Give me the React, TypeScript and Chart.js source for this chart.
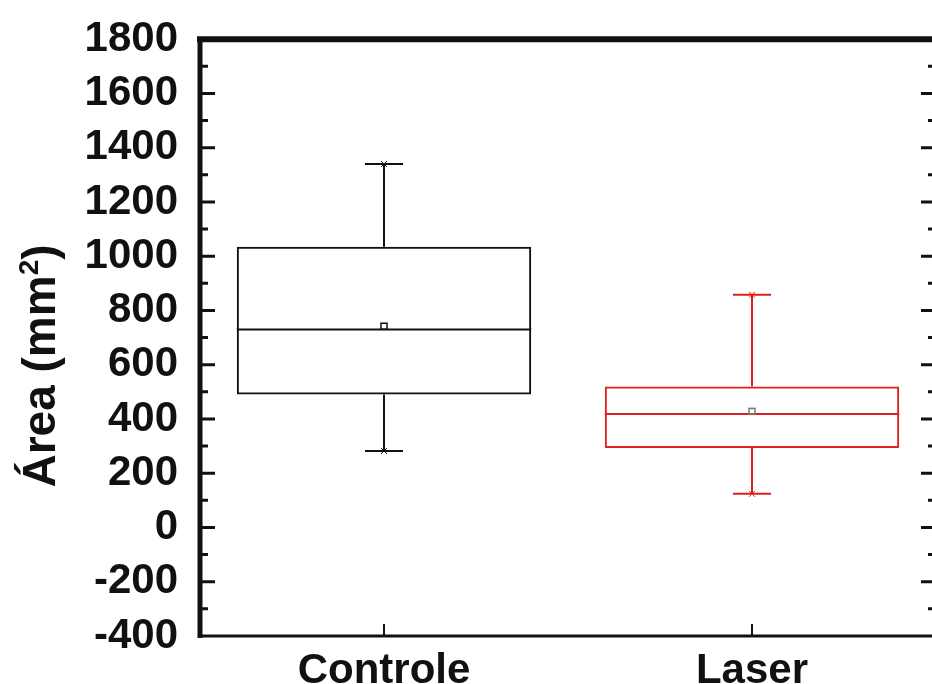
import React, { useEffect, useRef } from "react";
import { Chart, registerables } from "chart.js";

Chart.register(...registerables);

const categories = ["Controle", "Laser"];
const q1 = [490, 293];
const q3 = [1035, 520];
const medians = [730, 418];
const means = [742, 428];
const whiskerLow = [282, 124];
const whiskerHigh = [1340, 858];
const boxColors = ["#111111", "#e0201f"];
const yMin = -400;
const yMax = 1800;
const yStep = 200;
const yMinorStep = 100;
const yTitle = "Área (mm";
const yTitleSup = "2";
const yTitleEnd = ")";

const FONT = '"Liberation Sans", Arial, sans-serif';

const boxPlugin = {
  id: "boxExtras",
  afterDatasetsDraw(chart: any) {
    const ctx = chart.ctx;
    const y = chart.scales.y;
    const meta = chart.getDatasetMeta(0);
    ctx.save();
    meta.data.forEach((bar: any, i: number) => {
      const x = bar.x;
      const w = bar.width;
      const col = boxColors[i];
      ctx.strokeStyle = col;
      ctx.lineWidth = 2;
      const ym = y.getPixelForValue(medians[i]);
      ctx.beginPath();
      ctx.moveTo(x - w / 2, ym);
      ctx.lineTo(x + w / 2, ym);
      ctx.stroke();
      const yq1 = y.getPixelForValue(q1[i]);
      const yq3 = y.getPixelForValue(q3[i]);
      const yl = y.getPixelForValue(whiskerLow[i]);
      const yh = y.getPixelForValue(whiskerHigh[i]);
      ctx.beginPath();
      ctx.moveTo(x, yq3);
      ctx.lineTo(x, yh);
      ctx.moveTo(x, yq1);
      ctx.lineTo(x, yl);
      const cap = 19;
      ctx.moveTo(x - cap, yh);
      ctx.lineTo(x + cap, yh);
      ctx.moveTo(x - cap, yl);
      ctx.lineTo(x + cap, yl);
      ctx.stroke();
      ctx.lineWidth = 1;
      ctx.beginPath();
      [yh, yl].forEach((yy) => {
        ctx.moveTo(x - 3, yy - 3);
        ctx.lineTo(x + 3, yy + 3);
        ctx.moveTo(x - 3, yy + 3);
        ctx.lineTo(x + 3, yy - 3);
      });
      ctx.stroke();
      const ymean = y.getPixelForValue(means[i]);
      ctx.lineWidth = 1.5;
      ctx.strokeStyle = i === 1 ? "#777" : col;
      ctx.strokeRect(x - 3, ymean - 3, 6, 6);
    });
    ctx.restore();
  },
  afterDraw(chart: any) {
    const ctx = chart.ctx;
    const a = chart.chartArea;
    const y = chart.scales.y;
    const xs = chart.scales.x;
    ctx.save();
    ctx.strokeStyle = "#111";
    ctx.lineCap = "butt";
    ctx.lineWidth = 6;
    ctx.beginPath();
    ctx.moveTo(a.left - 3, a.top);
    ctx.lineTo(a.right + 3, a.top);
    ctx.stroke();
    ctx.lineWidth = 5;
    ctx.beginPath();
    ctx.moveTo(a.left, a.top);
    ctx.lineTo(a.left, a.bottom + 2);
    ctx.moveTo(a.right, a.top);
    ctx.lineTo(a.right, a.bottom + 2);
    ctx.stroke();
    ctx.lineWidth = 3;
    ctx.beginPath();
    ctx.moveTo(a.left, a.bottom);
    ctx.lineTo(a.right, a.bottom);
    ctx.stroke();
    ctx.lineWidth = 3;
    ctx.beginPath();
    for (let v = yMin + yMinorStep; v < yMax; v += yMinorStep) {
      const py = y.getPixelForValue(v);
      const major = v % yStep === 0;
      const len = major ? 15 : 8;
      ctx.moveTo(a.left, py);
      ctx.lineTo(a.left + len, py);
      ctx.moveTo(a.right, py);
      ctx.lineTo(a.right - len, py);
    }
    ctx.stroke();
    ctx.lineWidth = 2;
    ctx.beginPath();
    categories.forEach((_, i) => {
      const px = xs.getPixelForValue(i);
      ctx.moveTo(px, a.bottom);
      ctx.lineTo(px, a.bottom - 12);
    });
    ctx.stroke();
    ctx.fillStyle = "#111";
    ctx.translate(55, 366);
    ctx.rotate(-Math.PI / 2);
    ctx.textBaseline = "alphabetic";
    const mainFont = `bold 46px ${FONT}`;
    const supFont = `bold 28px ${FONT}`;
    ctx.font = mainFont;
    const w1 = ctx.measureText(yTitle).width;
    const w3 = ctx.measureText(yTitleEnd).width;
    ctx.font = supFont;
    const w2 = ctx.measureText(yTitleSup).width;
    const total = w1 + w2 + w3;
    let cx = -total / 2;
    ctx.font = mainFont;
    ctx.fillText(yTitle, cx, 0);
    cx += w1;
    ctx.font = supFont;
    ctx.fillText(yTitleSup, cx, -17);
    cx += w2;
    ctx.font = mainFont;
    ctx.fillText(yTitleEnd, cx, 0);
    ctx.restore();
  },
};

export default function App() {
  const ref = useRef<HTMLCanvasElement | null>(null);
  useEffect(() => {
    if (!ref.current) return;
    const chart = new Chart(ref.current, {
      type: "bar",
      data: {
        labels: categories,
        datasets: [
          {
            data: categories.map((_, i) => [q1[i], q3[i]]) as any,
            borderColor: boxColors,
            backgroundColor: "rgba(0,0,0,0)",
            borderWidth: 2,
            borderSkipped: false,
            barPercentage: 0.8,
            categoryPercentage: 1,
          },
        ],
      },
      options: {
        responsive: false,
        animation: false,
        devicePixelRatio: 1,
        layout: { padding: { top: 36, right: 4, left: 0, bottom: 0 } },
        plugins: { legend: { display: false }, tooltip: { enabled: false } },
        scales: {
          x: {
            grid: { display: false },
            border: { display: false },
            ticks: {
              color: "#111",
              padding: 2,
              font: { family: FONT, size: 42, weight: "bold" },
            },
            afterFit(scale: any) {
              scale.height = 48;
            },
          },
          y: {
            min: yMin,
            max: yMax,
            grid: { display: false },
            border: { display: false },
            ticks: {
              stepSize: yStep,
              color: "#111",
              padding: 14,
              font: { family: FONT, size: 42, weight: "bold" },
              callback: (v: any) => String(v),
            },
            afterFit(scale: any) {
              scale.width = 200;
            },
          },
        },
      },
      plugins: [boxPlugin],
    });
    return () => chart.destroy();
  }, []);
  return (
    <div
      style={{
        position: "fixed",
        left: 0,
        top: 0,
        width: 932,
        height: 684,
        overflow: "hidden",
        background: "#fff",
      }}
    >
      <canvas ref={ref} width={940} height={684} style={{ display: "block" }} />
    </div>
  );
}
